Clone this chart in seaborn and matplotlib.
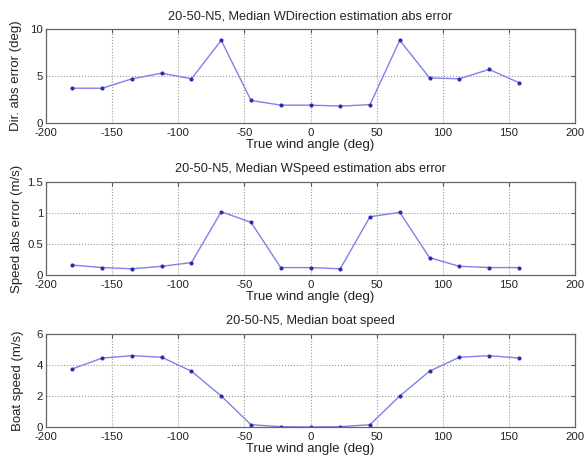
import matplotlib
matplotlib.use("Agg")
import matplotlib.pyplot as plt
import seaborn as sns
import pandas as pd

# True wind angle bins (deg)
angles = [-180, -157.5, -135, -112.5, -90, -67.5, -45, -22.5,
          0, 22.5, 45, 67.5, 90, 112.5, 135, 157.5]

# Median wind direction estimation abs error (deg)
dir_err = [3.7, 3.7, 4.7, 5.3, 4.7, 8.8, 2.4, 1.9,
           1.9, 1.8, 1.95, 8.8, 4.8, 4.7, 5.7, 4.3]

# Median wind speed estimation abs error (m/s)
speed_err = [0.16, 0.12, 0.10, 0.14, 0.20, 1.02, 0.85, 0.12,
             0.12, 0.10, 0.94, 1.01, 0.28, 0.14, 0.12, 0.12]

# Median boat speed (m/s)
boat_speed = [3.75, 4.45, 4.6, 4.5, 3.6, 2.0, 0.15, 0.02,
              0.0, 0.02, 0.15, 2.0, 3.6, 4.5, 4.6, 4.45]

titles = ["20-50-N5, Median WDirection estimation abs error",
          "20-50-N5, Median WSpeed estimation abs error",
          "20-50-N5, Median boat speed"]
ylabels = ["Dir. abs error (deg)", "Speed abs error (m/s)", "Boat speed (m/s)"]
xlabel = "True wind angle (deg)"
xticks = [-200, -150, -100, -50, 0, 50, 100, 150, 200]
yticks = [[0, 5, 10], [0, 0.5, 1, 1.5], [0, 2, 4, 6]]
yticklabels = [["0", "5", "10"], ["0", "0.5", "1", "1.5"], ["0", "2", "4", "6"]]

sns.set_style("white")
plt.rcParams["font.family"] = ["Liberation Sans", "DejaVu Sans"]
plt.rcParams["font.size"] = 9

fig = plt.figure(figsize=(5.87, 4.66), dpi=100)
left, width = 46 / 587, (575 - 46) / 587
boxes = [(29, 123), (182, 275), (334, 427)]
ylabel_pads = [6, 3, 9]

series = [dir_err, speed_err, boat_speed]
for i, (top, bot) in enumerate(boxes):
    ax = fig.add_axes([left, 1 - bot / 466, width, (bot - top) / 466])
    df = pd.DataFrame({"angle": angles, "value": series[i]})
    sns.lineplot(data=df, x="angle", y="value", ax=ax, color="#8080ea",
                 linewidth=1.0, marker="o", markersize=2.2,
                 markerfacecolor="#2a2ab0", markeredgecolor="#2a2ab0")
    ax.set_xlim(-200, 200)
    ax.set_ylim(yticks[i][0], yticks[i][-1])
    ax.set_xticks(xticks)
    ax.set_xticklabels([str(t) for t in xticks], fontsize=8.2)
    ax.set_yticks(yticks[i])
    ax.set_yticklabels(yticklabels[i], fontsize=8.2)
    ax.grid(True, linestyle=":", color="#9a9a9a", linewidth=0.8)
    ax.tick_params(direction="in", length=3, top=True, right=True,
                   color="#555555", labelcolor="#222222")
    ax.tick_params(axis="x", pad=3.5)
    ax.tick_params(axis="y", pad=2)
    for s in ax.spines.values():
        s.set_color("#666666")
        s.set_linewidth(0.9)
    ax.set_title(titles[i], fontsize=9.2, color="#222222", pad=7)
    ax.set_xlabel(xlabel, fontsize=9.5, color="#222222", labelpad=1)
    ax.set_ylabel(ylabels[i], fontsize=9.5, color="#222222",
                  labelpad=ylabel_pads[i])

fig.savefig("out.png", dpi=100, facecolor="white")
